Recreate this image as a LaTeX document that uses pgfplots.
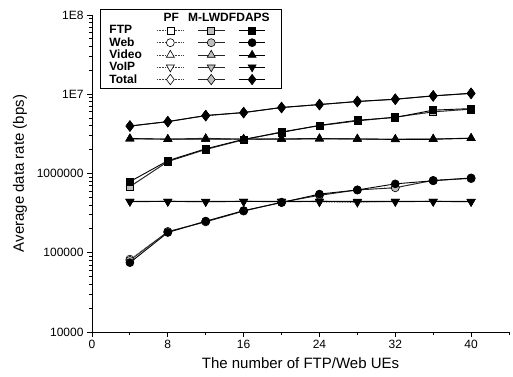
\documentclass[border=0pt]{standalone}
\usepackage{pgfplots}
\pgfplotsset{compat=1.18}
\usepackage{fontspec}
\setmainfont{Liberation Sans}
\begin{document}
\begin{tikzpicture}
\pgfplotsset{
 myleg/.style={legend image code/.code={\path (0cm,0cm) (1.34cm,0cm); \draw[mark repeat=2, mark phase=2] plot coordinates {(0.2cm,0cm) (0.67cm,0cm) (1.14cm,0cm)};}},
 pf/.style={myleg, black!75, densely dotted, line width=0.6bp, mark options={solid, fill=white, draw=black, line width=0.6bp}},
 ml/.style={myleg, black!85, solid, line width=0.9bp, mark options={solid, fill=gray!50, draw=black, line width=0.6bp}},
 da/.style={myleg, black, solid, line width=0.9bp, mark options={solid, fill=black, draw=black, line width=0.6bp}},
 msq/.style={mark=square*, mark size=3.5bp},
 mci/.style={mark=*, mark size=4bp},
 mtu/.style={mark=triangle*, mark size=4.6bp},
 mtd/.style={mark=triangle*, mark size=4.6bp, every mark/.append style={rotate=180}},
 mdi/.style={mark=diamond*, mark size=5.2bp},
 hdr/.style={legend image code/.code={\path (0cm,0cm) (1.34cm,0cm); \node[font=\bfseries\fontsize{12bp}{14bp}\selectfont, inner sep=0pt] at (0.67cm,0cm) {\makebox[0pt]{#1}};}},
}
\begin{axis}[
 name=ax,
 scale only axis, width=417bp, height=317bp,
 ymode=log, xmin=0, xmax=44, ymin=1e4, ymax=1e8,
 axis x line*=bottom, axis y line*=left,
 axis line style={line width=0.9bp, -},
 xtick={0,8,...,40}, minor xtick={4,12,...,44},
 ytick={1e4,1e5,1e6,1e7,1e8},
 yticklabels={10000,100000,1000000,1E7,1E8},
 /pgf/number format/assume math mode=true,
 tick align=outside, major tick length=5bp, minor tick length=3bp,
 tick style={black, line width=0.9bp},
 ticklabel style={font=\fontsize{12bp}{14bp}\selectfont},
 xlabel={The number of FTP/Web UEs},
 ylabel={Average data rate (bps)},
 label style={font=\fontsize{15bp}{18bp}\selectfont},
 xlabel style={yshift=-2bp},
 ylabel style={yshift=3bp},
 legend columns=4,
 legend cell align=left,
 legend style={at={(0,1)}, anchor=north west, xshift=8bp, yshift=6bp,
   font=\bfseries\fontsize{12bp}{14bp}\selectfont, draw=black, line width=0.9bp,
   inner xsep=8bp, inner ysep=2bp,
   row sep=-1bp,
   nodes={inner sep=1bp}},
]
% header
\addlegendimage{empty legend}\addlegendentry{\strut}
\addlegendimage{hdr=PF}\addlegendentry{\strut}
\addlegendimage{hdr=M-LWDF}\addlegendentry{\strut}
\addlegendimage{hdr=DAPS}\addlegendentry{\strut}
% FTP
\addlegendimage{empty legend}\addlegendentry{FTP}
\addplot[pf, msq] coordinates {(4,690000) (8,1400000) (12,2000000) (16,2650000) (20,3300000) (24,4000000) (28,4650000) (32,5100000) (36,5950000) (40,6450000)};
\addlegendentry{\strut}
\addplot[ml, msq] coordinates {(4,680000) (8,1420000) (12,2010000) (16,2670000) (20,3350000) (24,4020000) (28,4600000) (32,5150000) (36,6000000) (40,6500000)};
\addlegendentry{\strut}
\addplot[da, msq] coordinates {(4,790000) (8,1450000) (12,2050000) (16,2700000) (20,3300000) (24,4050000) (28,4700000) (32,5100000) (36,6300000) (40,6600000)};
\addlegendentry{\strut}
% Web
\addlegendimage{empty legend}\addlegendentry{Web}
\addplot[pf, mci] coordinates {(4,83000) (8,185000) (12,250000) (16,340000) (20,430000) (24,540000) (28,620000) (32,670000) (36,810000) (40,860000)};
\addlegendentry{\strut}
\addplot[ml, mci] coordinates {(4,80000) (8,185000) (12,245000) (16,335000) (20,435000) (24,530000) (28,620000) (32,660000) (36,820000) (40,870000)};
\addlegendentry{\strut}
\addplot[da, mci] coordinates {(4,75000) (8,180000) (12,250000) (16,340000) (20,430000) (24,550000) (28,620000) (32,740000) (36,810000) (40,880000)};
\addlegendentry{\strut}
% Video
\addlegendimage{empty legend}\addlegendentry{Video\hspace*{8bp}}
\addplot[pf, mtu] coordinates {(4,2750000) (8,2700000) (12,2750000) (16,2720000) (20,2760000) (24,2750000) (28,2740000) (32,2720000) (36,2740000) (40,2800000)};
\addlegendentry{\strut}
\addplot[ml, mtu] coordinates {(4,2740000) (8,2720000) (12,2780000) (16,2700000) (20,2740000) (24,2760000) (28,2720000) (32,2700000) (36,2730000) (40,2790000)};
\addlegendentry{\strut}
\addplot[da, mtu] coordinates {(4,2760000) (8,2710000) (12,2700000) (16,2730000) (20,2700000) (24,2740000) (28,2730000) (32,2690000) (36,2700000) (40,2780000)};
\addlegendentry{\strut}
% VoIP
\addlegendimage{empty legend}\addlegendentry{VoIP}
\addplot[pf, mtd] coordinates {(4,445000) (8,440000) (12,440000) (16,440000) (20,445000) (24,435000) (28,430000) (32,445000) (36,440000) (40,440000)};
\addlegendentry{\strut}
\addplot[ml, mtd] coordinates {(4,440000) (8,445000) (12,445000) (16,445000) (20,440000) (24,445000) (28,440000) (32,440000) (36,445000) (40,445000)};
\addlegendentry{\strut}
\addplot[da, mtd] coordinates {(4,445000) (8,445000) (12,440000) (16,445000) (20,445000) (24,445000) (28,445000) (32,445000) (36,445000) (40,440000)};
\addlegendentry{\strut}
% Total
\addlegendimage{empty legend}\addlegendentry{Total}
\addplot[pf, mdi] coordinates {(4,3970000) (8,4500000) (12,5350000) (16,5850000) (20,6800000) (24,7400000) (28,8100000) (32,8650000) (36,9500000) (40,10200000)};
\addlegendentry{\strut}
\addplot[ml, mdi] coordinates {(4,3960000) (8,4520000) (12,5370000) (16,5870000) (20,6780000) (24,7420000) (28,8080000) (32,8640000) (36,9520000) (40,10250000)};
\addlegendentry{\strut}
\addplot[da, mdi] coordinates {(4,3980000) (8,4510000) (12,5400000) (16,5880000) (20,6820000) (24,7410000) (28,8120000) (32,8660000) (36,9550000) (40,10300000)};
\addlegendentry{\strut}
\end{axis}
\pgfresetboundingbox
\path ([shift={(-92bp,-45bp)}]ax.south west) rectangle ([shift={(4bp,15bp)}]ax.north east);
\end{tikzpicture}
\end{document}
